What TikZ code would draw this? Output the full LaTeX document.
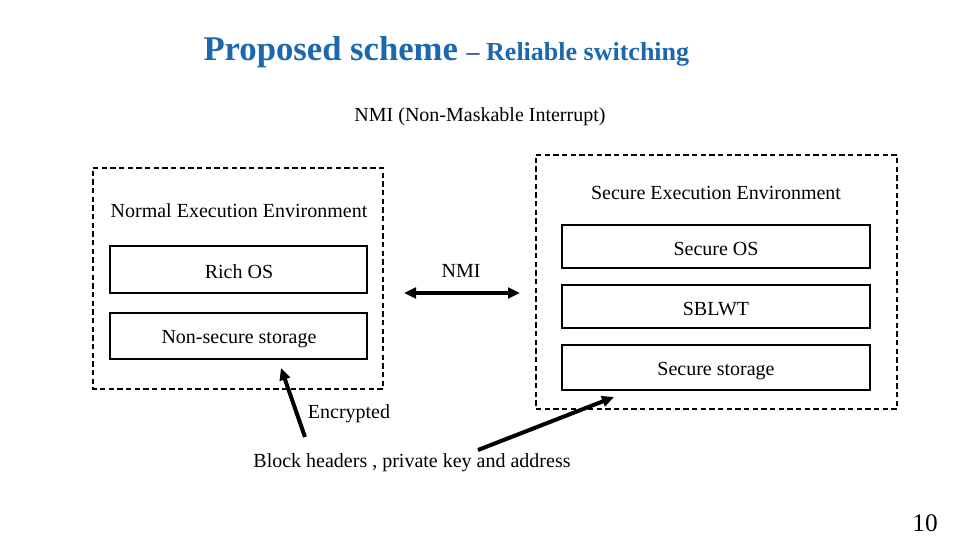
\documentclass[tikz,border=0pt]{standalone}
\usepackage{fontspec}
\setmainfont{Liberation Serif}
\usetikzlibrary{arrows.meta}

\definecolor{titleblue}{RGB}{28,104,176}

\tikzset{every picture/.style={line width=0.75pt}}
\tikzset{
  envbox/.style={line width=1.5pt, dash pattern=on 4pt off 2.5pt},
  partbox/.style={line width=1.6pt},
  fatarrow/.style={line width=3pt, -{Triangle[length=9pt,width=8pt]}},
  label/.style={font=\fontsize{15}{18}\selectfont, inner sep=0pt}
}

\begin{document}
\begin{tikzpicture}[x=0.75pt,y=0.75pt,yscale=-1,xscale=1]
\useasboundingbox (0,0) rectangle (960,540); %set diagram to 960 x 540

% Title
\draw (203,48) node [anchor=base west, inner sep=0pt, yshift=-9pt, text=titleblue] (title) {\fontsize{26}{30}\selectfont\textbf{Proposed scheme} {\fontsize{19.5}{22}\selectfont\textbf{– Reliable switching}}};
% Text Node
\draw (480,117) node [label] (nminame) {NMI (Non-Maskable Interrupt)};

%Shape: Rectangle [normal world]
\draw [envbox] (93,168) -- (383,168) -- (383,389) -- (93,389) -- cycle ;
%Shape: Rectangle [secure world]
\draw [envbox] (536,155) -- (897,155) -- (897,409) -- (536,409) -- cycle ;

%Shape: Rectangle [Rich OS]
\draw [partbox] (110,246) -- (367,246) -- (367,293) -- (110,293) -- cycle ;
%Shape: Rectangle [Non-secure storage]
\draw [partbox] (110,313) -- (367,313) -- (367,359) -- (110,359) -- cycle ;
%Shape: Rectangle [Secure OS]
\draw [partbox] (562,225) -- (870,225) -- (870,268) -- (562,268) -- cycle ;
%Shape: Rectangle [SBLWT]
\draw [partbox] (562,285) -- (870,285) -- (870,328) -- (562,328) -- cycle ;
%Shape: Rectangle [Secure storage]
\draw [partbox] (562,345) -- (870,345) -- (870,390) -- (562,390) -- cycle ;

% Text Node
\draw (239,211) node [label] (normalenv) {Normal Execution Environment};
% Text Node
\draw (716,193) node [label] (secureenv) {Secure Execution Environment};
% Text Node
\draw (239,272) node [label] (richos) {Rich OS};
% Text Node
\draw (239,339) node [label] (nsstorage) {Non-secure storage};
% Text Node
\draw (716,249) node [label] (secureos) {Secure OS};
% Text Node
\draw (716,309) node [label] (sblwt) {SBLWT};
% Text Node
\draw (716,371) node [label] (sstorage) {Secure storage};
% Text Node
\draw (461,271) node [label] (nmi) {NMI};
% Text Node
\draw (349,414) node [label] (encrypted) {Encrypted};
% Text Node
\draw (412,463) node [label] (blockinfo) {Block headers , private key and address};
% Text Node
\draw (925,523) node [inner sep=0pt] (pagenum) {\fontsize{19}{22}\selectfont 10};

% arrow ends
\coordinate (nmileft) at (404,293);
\coordinate (nmiright) at (520,293);
\coordinate (enctail) at (305,437);
\coordinate (enchead) at (281,368);
\coordinate (blocktail) at (478,450);
\coordinate (blockhead) at (614,397);

% Arrows
\draw [fatarrow, {Triangle[length=9pt,width=8pt]}-{Triangle[length=9pt,width=8pt]}] (nmileft) -- (nmiright);
\draw [fatarrow] (enctail) -- (enchead);
\draw [fatarrow] (blocktail) -- (blockhead);

\end{tikzpicture}
\end{document}
